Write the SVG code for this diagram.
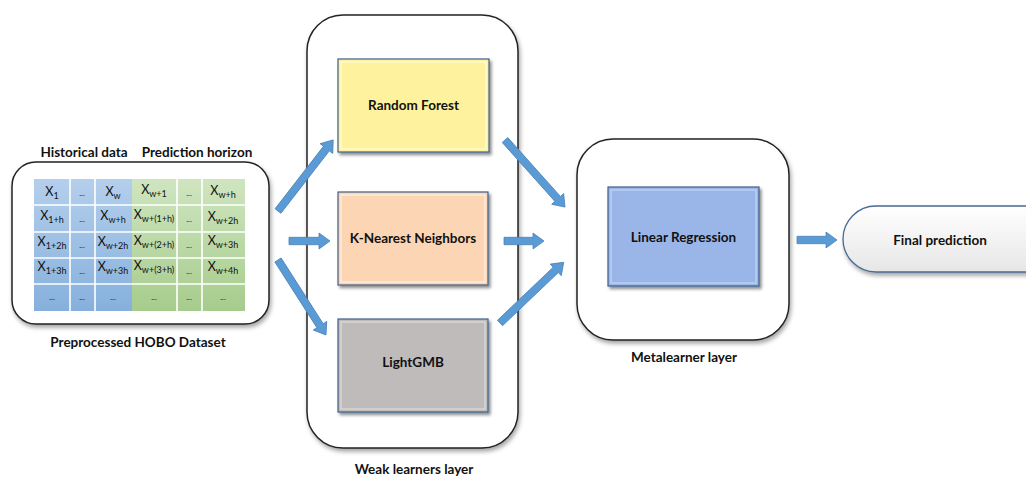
<svg xmlns="http://www.w3.org/2000/svg" width="1026" height="477" viewBox="0 0 1026 477">
<defs>
<linearGradient id="gBlue" x1="0" y1="0" x2="0" y2="1"><stop offset="0" stop-color="#b4cfec"/><stop offset="1" stop-color="#86b0dc"/></linearGradient>
<linearGradient id="gGreen" x1="0" y1="0" x2="0" y2="1"><stop offset="0" stop-color="#cfe5c0"/><stop offset="1" stop-color="#a6cc8c"/></linearGradient>
<linearGradient id="gPill" x1="0" y1="0" x2="0" y2="1"><stop offset="0" stop-color="#ffffff"/><stop offset="1" stop-color="#e6e6e6"/></linearGradient>
<filter id="sh" x="-10%" y="-10%" width="130%" height="130%"><feDropShadow dx="2" dy="2.5" stdDeviation="1.8" flood-color="#000" flood-opacity="0.45"/></filter>
<filter id="shc" x="-10%" y="-10%" width="130%" height="130%"><feDropShadow dx="1.5" dy="3" stdDeviation="2" flood-color="#000" flood-opacity="0.35"/></filter>
</defs>
<style>
text{font-family:Lato,"Liberation Sans",sans-serif;fill:#111}
.lbl{font-weight:bold;font-size:13.5px;text-anchor:middle}
.cell{font-size:12.5px;text-anchor:middle}
.sub{font-size:9px}
.dots{font-size:8px;text-anchor:middle}
.cont{fill:#fff;stroke:#222;stroke-width:1.5}
.box{stroke:#3f5f8a;stroke-width:1.2}
.arr{fill:#5b9bd5;stroke:#4a82b8;stroke-width:0.8}
.sep{stroke:#fff;stroke-width:1.6}
</style>

<g id="dataset">
<rect class="cont" x="12" y="162" width="257" height="162" rx="24" filter="url(#shc)"/>
<rect x="34" y="179" width="98" height="132" fill="url(#gBlue)"/>
<rect x="132" y="179" width="113" height="132" fill="url(#gGreen)"/>
<g class="sep">
<line x1="70" y1="179" x2="70" y2="311"/><line x1="95" y1="179" x2="95" y2="311"/>
<line x1="177" y1="179" x2="177" y2="311"/><line x1="202" y1="179" x2="202" y2="311"/>
<line x1="34" y1="205" x2="245" y2="205"/><line x1="34" y1="232" x2="245" y2="232"/>
<line x1="34" y1="258" x2="245" y2="258"/><line x1="34" y1="284" x2="245" y2="284"/>
</g>
<text class="cell" x="52" y="196">X<tspan class="sub" dy="3">1</tspan></text>
<text class="dots" x="82" y="196">...</text>
<text class="cell" x="113" y="196">X<tspan class="sub" dy="3">w</tspan></text>
<text class="cell" x="154" y="194">X<tspan class="sub" dy="3">w+1</tspan></text>
<text class="dots" x="189" y="196">...</text>
<text class="cell" x="223" y="195">X<tspan class="sub" dy="3">w+h</tspan></text>

<text class="cell" x="52" y="220">X<tspan class="sub" dy="3">1+h</tspan></text>
<text class="dots" x="82" y="222">...</text>
<text class="cell" x="113" y="220">X<tspan class="sub" dy="3">w+h</tspan></text>
<text class="cell" x="154" y="219">X<tspan class="sub" dy="3">w+(1+h)</tspan></text>
<text class="dots" x="189" y="222">...</text>
<text class="cell" x="223" y="221">X<tspan class="sub" dy="3">w+2h</tspan></text>

<text class="cell" x="52" y="246">X<tspan class="sub" dy="3">1+2h</tspan></text>
<text class="dots" x="82" y="248">...</text>
<text class="cell" x="113" y="246">X<tspan class="sub" dy="3">w+2h</tspan></text>
<text class="cell" x="154" y="245">X<tspan class="sub" dy="3">w+(2+h)</tspan></text>
<text class="dots" x="189" y="248">...</text>
<text class="cell" x="223" y="245">X<tspan class="sub" dy="3">w+3h</tspan></text>

<text class="cell" x="52" y="271">X<tspan class="sub" dy="3">1+3h</tspan></text>
<text class="dots" x="82" y="274">...</text>
<text class="cell" x="113" y="271">X<tspan class="sub" dy="3">w+3h</tspan></text>
<text class="cell" x="154" y="270">X<tspan class="sub" dy="3">w+(3+h)</tspan></text>
<text class="dots" x="189" y="274">...</text>
<text class="cell" x="223" y="271">X<tspan class="sub" dy="3">w+4h</tspan></text>

<text class="dots" x="52" y="300">...</text>
<text class="dots" x="82" y="300">...</text>
<text class="dots" x="113" y="300">...</text>
<text class="dots" x="154" y="300">...</text>
<text class="dots" x="189" y="300">...</text>
<text class="dots" x="223" y="300">...</text>

<text class="lbl" x="84" y="157">Historical data</text>
<text class="lbl" x="197" y="157">Prediction horizon</text>
<text class="lbl" x="138" y="347">Preprocessed HOBO Dataset</text>
</g>

<g id="weak-learners">
<rect class="cont" x="307" y="15" width="211" height="433" rx="36" filter="url(#shc)"/>
<text class="lbl" x="414" y="474">Weak learners layer</text>
</g>

<g id="random-forest">
<rect class="box" x="338" y="59" width="151" height="93" fill="#fff29e" filter="url(#sh)"/>
<rect x="341" y="62" width="145" height="87" fill="none" stroke="#fffbd8" stroke-width="1.5" opacity="0.8"/>
<text class="lbl" x="413.5" y="110">Random Forest</text>
</g>

<g id="knn">
<rect class="box" x="338" y="192" width="150" height="93" fill="#fcd5b4" filter="url(#sh)"/>
<rect x="341" y="195" width="144" height="87" fill="none" stroke="#fff0e2" stroke-width="1.5" opacity="0.8"/>
<text class="lbl" x="413" y="243">K-Nearest Neighbors</text>
</g>

<g id="lightgmb">
<rect class="box" x="338" y="319" width="150" height="93" fill="#bfbbba" filter="url(#sh)"/>
<rect x="341" y="322" width="144" height="87" fill="none" stroke="#dedcdc" stroke-width="1.5" opacity="0.8"/>
<text class="lbl" x="413" y="367">LightGMB</text>
</g>

<g id="metalearner">
<rect class="cont" x="577" y="139" width="212" height="201" rx="36" filter="url(#shc)"/>
<text class="lbl" x="684" y="362">Metalearner layer</text>
</g>

<g id="linear-regression">
<rect class="box" x="608" y="187" width="151" height="99" fill="#9ab6e8" filter="url(#sh)"/>
<rect x="611" y="190" width="145" height="93" fill="none" stroke="#c4d5f3" stroke-width="1.5" opacity="0.8"/>
<text class="lbl" x="683.5" y="242">Linear Regression</text>
</g>

<g id="final-prediction">
<rect x="843" y="206" width="220" height="66" rx="33" fill="url(#gPill)" stroke="#4a6a94" stroke-width="1.3" filter="url(#shc)"/>
<text class="lbl" x="940" y="245">Final prediction</text>
</g>

<g id="connectors">
<path class="arr" transform="translate(278,211) rotate(-52.2)" d="M0,-3.7 L79,-3.7 L79,-8 L90,0 L79,8 L79,3.7 L0,3.7 Z"/>
<path class="arr" transform="translate(289,241)" d="M0,-3.7 L30,-3.7 L30,-8 L41,0 L30,8 L30,3.7 L0,3.7 Z"/>
<path class="arr" transform="translate(278,260) rotate(57.4)" d="M0,-3.7 L78,-3.7 L78,-8 L89,0 L78,8 L78,3.7 L0,3.7 Z"/>
<path class="arr" transform="translate(505,140) rotate(48.2)" d="M0,-3.7 L79,-3.7 L79,-8 L90,0 L79,8 L79,3.7 L0,3.7 Z"/>
<path class="arr" transform="translate(504,241)" d="M0,-3.7 L29,-3.7 L29,-8 L40,0 L29,8 L29,3.7 L0,3.7 Z"/>
<path class="arr" transform="translate(500,323) rotate(-43.6)" d="M0,-3.7 L77,-3.7 L77,-8 L88,0 L77,8 L77,3.7 L0,3.7 Z"/>
<path class="arr" transform="translate(797,240)" d="M0,-3.7 L29,-3.7 L29,-8 L40,0 L29,8 L29,3.7 L0,3.7 Z"/>
</g>
</svg>
